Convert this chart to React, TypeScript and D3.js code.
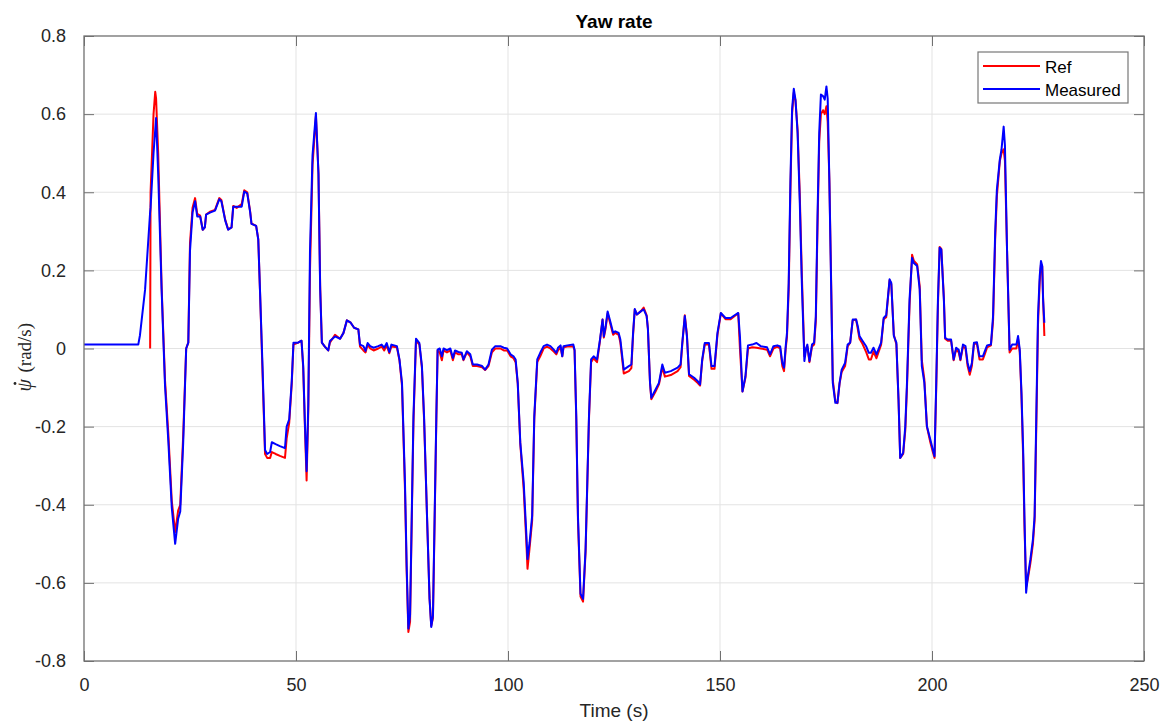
import React, { useEffect, useRef } from 'react'
import * as d3 from 'd3'

// time stamps (s), shared by both traces
const time = [
  0, 12.8, 13.2, 14.4, 15.0, 15.6, 15.7, 16.4, 16.8, 17.0,
  17.5, 18.3, 19.1, 19.9, 20.7, 21.5, 22.2, 22.7, 23.4, 24.1,
  24.6, 25.0, 25.6, 26.2, 26.7, 27.4, 28.0, 28.5, 28.8, 29.7,
  30.9, 31.9, 32.4, 33.3, 34.0, 34.8, 35.2, 36.0, 37.2, 37.8,
  38.5, 39.2, 39.5, 40.6, 41.1, 41.5, 42.1, 42.7, 43.2, 43.9,
  44.3, 45.2, 46.2, 47.4, 47.8, 48.4, 49.0, 49.4, 50.5, 51.3,
  51.7, 52.1, 52.5, 52.9, 53.3, 53.9, 54.7, 55.3, 55.7, 56.1,
  56.8, 57.6, 58.0, 59.2, 60.4, 61.2, 62.0, 62.9, 63.7, 64.7,
  65.1, 65.9, 66.4, 66.9, 67.5, 68.3, 69.4, 70.2, 70.8, 71.4,
  72.0, 72.5, 73.8, 74.4, 75.0, 75.7, 76.1, 76.5, 76.9, 77.3,
  77.7, 78.3, 79.1, 79.7, 80.2, 80.9, 81.5, 81.9, 82.3, 82.7,
  83.1, 83.4, 83.9, 84.4, 84.8, 85.6, 86.4, 87.0, 87.5, 88.3,
  89.1, 89.5, 90.3, 91.1, 91.7, 92.7, 93.9, 94.6, 95.4, 96.2,
  97.0, 98.2, 99.0, 99.8, 100.6, 101.3, 101.8, 102.3, 102.9, 103.7,
  104.3, 104.6, 105.1, 105.7, 106.2, 106.9, 107.6, 108.4, 109.2, 110.0,
  110.8, 111.4, 111.8, 112.4, 112.8, 113.1, 114.0, 115.4, 115.7, 116.1,
  116.5, 117.1, 117.7, 118.3, 118.7, 119.1, 119.6, 120.2, 121.0, 121.7,
  122.3, 122.6, 123.0, 123.5, 124.2, 124.8, 125.3, 126.1, 126.5, 127.3,
  128.5, 129.1, 129.5, 129.9, 130.4, 131.3, 132.0, 132.7, 133.0, 133.5,
  133.8, 134.8, 135.6, 136.4, 137.0, 138.4, 140.0, 140.7, 141.1, 141.7,
  142.2, 142.7, 143.9, 144.7, 145.3, 145.8, 146.4, 147.4, 148.0, 148.7,
  149.4, 150.2, 151.3, 152.5, 153.7, 154.3, 154.7, 155.3, 156.0, 156.6,
  157.6, 158.6, 159.6, 161.1, 161.8, 162.6, 163.5, 164.2, 164.7, 165.1,
  165.5, 165.8, 166.2, 166.6, 167.0, 167.4, 167.8, 168.3, 168.8, 169.3,
  169.9, 170.3, 170.6, 171.1, 171.7, 172.2, 172.6, 173.0, 173.4, 173.8,
  174.3, 174.7, 175.1, 175.4, 175.8, 176.2, 176.6, 177.2, 177.7, 178.2,
  178.7, 179.5, 180.1, 180.7, 181.3, 182.1, 182.5, 182.9, 183.6, 184.5,
  185.1, 185.6, 186.2, 186.9, 188.0, 188.6, 189.2, 190.0, 190.4, 191.0,
  191.6, 192.1, 192.5, 193.2, 193.7, 194.1, 194.7, 195.3, 195.7, 196.5,
  197.1, 197.6, 198.2, 198.8, 199.6, 200.2, 200.6, 201.0, 201.4, 201.8,
  202.2, 202.8, 203.1, 203.7, 204.5, 205.1, 205.7, 206.3, 206.7, 207.3,
  207.9, 208.4, 208.9, 209.4, 209.9, 210.6, 211.2, 212.0, 212.6, 213.0,
  213.9, 214.4, 214.9, 215.3, 216.0, 216.4, 216.9, 217.2, 217.7, 218.3,
  218.9, 219.9, 220.3, 220.7, 221.1, 221.5, 221.8, 222.2, 222.6, 223.2,
  223.8, 224.2, 224.6, 225.0, 225.4, 225.7, 226.0, 226.2, 226.5,
]

// measured yaw rate (rad/s), blue
const measured = [
  0.01, 0.01, 0.034, 0.15, 0.25, 0.35, 0.36, 0.50, 0.56, 0.59,
  0.446, 0.152, -0.093, -0.24, -0.407, -0.50, -0.436, -0.417, -0.24, 0.0,
  0.015, 0.25, 0.348, 0.377, 0.338, 0.338, 0.304, 0.31, 0.343, 0.348,
  0.353, 0.382, 0.377, 0.328, 0.304, 0.31, 0.363, 0.363, 0.363, 0.402,
  0.397, 0.348, 0.319, 0.314, 0.279, 0.152, -0.044, -0.26, -0.27, -0.265,
  -0.24, -0.245, -0.25, -0.255, -0.20, -0.181, -0.083, 0.015, 0.015, 0.02,
  -0.044, -0.19, -0.314, -0.142, 0.25, 0.495, 0.603, 0.446, 0.152, 0.015,
  0.005, -0.005, 0.019, 0.031, 0.025, 0.04, 0.072, 0.066, 0.053, 0.049,
  0.01, 0.006, -0.006, 0.014, 0.006, 0.002, 0.006, 0.01, 0.002, 0.014,
  -0.009, 0.01, 0.006, -0.028, -0.088, -0.343, -0.556, -0.717, -0.683, -0.428,
  -0.173, 0.025, 0.014, -0.045, -0.173, -0.428, -0.641, -0.713, -0.683, -0.428,
  -0.173, -0.003, 0.0, -0.02, 0.0, -0.004, 0.0, -0.024, -0.005, -0.009,
  -0.011, -0.028, -0.007, -0.015, -0.041, -0.041, -0.045, -0.054, -0.041, -0.003,
  0.006, 0.006, 0.002, 0.0, -0.015, -0.02, -0.028, -0.088, -0.241, -0.343,
  -0.47, -0.539, -0.496, -0.428, -0.173, -0.028, -0.011, 0.006, 0.01, 0.006,
  -0.003, -0.011, 0.002, 0.008, -0.02, 0.006, 0.008, 0.01, -0.003, -0.173,
  -0.428, -0.628, -0.641, -0.513, -0.343, -0.173, -0.028, -0.02, -0.028, 0.023,
  0.074, 0.031, 0.055, 0.095, 0.066, 0.04, 0.044, 0.04, 0.023, -0.054,
  -0.045, -0.041, 0.04, 0.101, 0.087, 0.095, 0.1, 0.083, 0.05, -0.088,
  -0.126, -0.105, -0.088, -0.041, -0.062, -0.058, -0.049, -0.041, 0.014, 0.083,
  0.031, -0.066, -0.075, -0.083, -0.092, -0.028, 0.014, 0.014, -0.045, -0.045,
  0.04, 0.091, 0.078, 0.078, 0.087, 0.091, 0.031, -0.11, -0.071, 0.008,
  0.01, 0.014, 0.006, 0.003, -0.015, 0.006, 0.008, 0.005, -0.037, -0.049,
  0.006, 0.04, 0.168, 0.424, 0.612, 0.665, 0.637, 0.552, 0.381, 0.168,
  -0.032, 0.0, 0.01, -0.032, 0.01, 0.015, 0.083, 0.339, 0.552, 0.65,
  0.646, 0.637, 0.671, 0.64, 0.424, 0.168, -0.088, -0.139, -0.139, -0.088,
  -0.054, -0.037, 0.01, 0.015, 0.074, 0.074, 0.057, 0.032, 0.02, 0.005,
  -0.011, -0.011, 0.002, -0.015, 0.015, 0.078, 0.085, 0.177, 0.168, 0.032,
  0.015, -0.13, -0.28, -0.267, -0.199, -0.088, 0.125, 0.232, 0.219, 0.211,
  0.151, -0.045, -0.088, -0.199, -0.233, -0.259, -0.276, -0.088, 0.125, 0.258,
  0.253, 0.125, 0.027, 0.023, 0.023, -0.028, 0.002, -0.003, -0.028, 0.01,
  0.006, -0.037, -0.058, -0.037, 0.015, 0.016, -0.02, -0.02, -0.003, 0.008,
  0.01, 0.083, 0.296, 0.407, 0.484, 0.51, 0.568, 0.52, 0.253, -0.003,
  0.01, 0.01, 0.032, -0.003, -0.113, -0.259, -0.429, -0.625, -0.583, -0.54,
  -0.489, -0.429, -0.173, 0.083, 0.185, 0.224, 0.211, 0.125, 0.066,
]

// reference yaw rate (rad/s), red; null before the reference starts
const reference = [
  null, null, null, null, null, 0, 0.40, 0.60, 0.657, 0.64,
  0.50, 0.16, -0.08, -0.22, -0.39, -0.47, -0.415, -0.40, -0.22, 0.0,
  0.015, 0.27, 0.36, 0.385, 0.345, 0.34, 0.304, 0.31, 0.343, 0.35,
  0.355, 0.385, 0.38, 0.33, 0.305, 0.31, 0.365, 0.36, 0.37, 0.405,
  0.40, 0.35, 0.32, 0.314, 0.28, 0.15, -0.06, -0.27, -0.28, -0.28,
  -0.265, -0.27, -0.275, -0.28, -0.23, -0.19, -0.09, 0.01, 0.015, 0.02,
  -0.05, -0.2, -0.338, -0.16, 0.2, 0.47, 0.595, 0.45, 0.16, 0.015,
  0.005, -0.005, 0.015, 0.035, 0.025, 0.04, 0.072, 0.066, 0.053, 0.049,
  0.005, -0.005, -0.01, 0.01, 0.0, -0.005, 0.0, 0.005, -0.005, 0.008,
  -0.012, 0.005, 0.003, -0.03, -0.095, -0.36, -0.57, -0.726, -0.70, -0.44,
  -0.19, 0.02, 0.01, -0.05, -0.18, -0.43, -0.64, -0.71, -0.69, -0.44,
  -0.18, -0.005, -0.01, -0.03, -0.005, -0.01, -0.005, -0.03, -0.01, -0.015,
  -0.015, -0.03, -0.01, -0.02, -0.045, -0.045, -0.048, -0.055, -0.045, -0.01,
  0.0, 0.0, -0.005, -0.005, -0.02, -0.025, -0.035, -0.09, -0.245, -0.36,
  -0.49, -0.564, -0.51, -0.44, -0.18, -0.035, -0.02, 0.0, 0.005, 0.0,
  -0.008, -0.015, -0.005, 0.003, -0.02, 0.003, 0.005, 0.005, -0.005, -0.18,
  -0.44, -0.635, -0.648, -0.52, -0.35, -0.18, -0.035, -0.025, -0.035, 0.02,
  0.074, 0.028, 0.05, 0.09, 0.06, 0.035, 0.04, 0.035, 0.015, -0.064,
  -0.058, -0.05, 0.035, 0.1, 0.087, 0.095, 0.105, 0.085, 0.05, -0.09,
  -0.13, -0.11, -0.092, -0.048, -0.072, -0.068, -0.058, -0.048, 0.01, 0.085,
  0.035, -0.07, -0.08, -0.088, -0.095, -0.032, 0.01, 0.01, -0.052, -0.052,
  0.035, 0.09, 0.075, 0.075, 0.085, 0.09, 0.0, -0.11, -0.075, 0.0,
  0.003, 0.002, 0.0, -0.003, -0.02, 0.0, 0.005, 0.0, -0.045, -0.058,
  0.0, 0.03, 0.15, 0.40, 0.60, 0.655, 0.635, 0.56, 0.40, 0.19,
  -0.02, 0.0, 0.005, -0.035, 0.005, 0.01, 0.07, 0.31, 0.53, 0.60,
  0.61, 0.60, 0.62, 0.58, 0.43, 0.18, -0.08, -0.135, -0.14, -0.09,
  -0.06, -0.045, 0.005, 0.015, 0.072, 0.074, 0.05, 0.025, 0.012, -0.01,
  -0.028, -0.028, -0.008, -0.025, 0.01, 0.075, 0.08, 0.175, 0.165, 0.035,
  0.01, -0.13, -0.28, -0.27, -0.21, -0.1, 0.11, 0.24, 0.225, 0.215,
  0.16, -0.03, -0.08, -0.2, -0.24, -0.265, -0.28, -0.1, 0.11, 0.26,
  0.255, 0.13, 0.025, 0.02, 0.02, -0.03, -0.002, -0.01, -0.03, 0.005,
  0.0, -0.045, -0.067, -0.045, 0.012, 0.012, -0.028, -0.028, -0.01, 0.003,
  0.008, 0.07, 0.28, 0.39, 0.48, 0.50, 0.51, 0.48, 0.25, -0.01,
  0.0, 0.0, 0.025, -0.01, -0.12, -0.28, -0.45, -0.61, -0.59, -0.55,
  -0.5, -0.44, -0.2, 0.06, 0.17, 0.215, 0.21, 0.13, 0.032,
]

const xTicks = [0, 50, 100, 150, 200, 250]
const yTicks = [-0.8, -0.6, -0.4, -0.2, 0, 0.2, 0.4, 0.6, 0.8]
const seriesNames = ['Ref', 'Measured']
const seriesColors = ['#ff0000', '#0000ff']

export default function App() {
  const ref = useRef<SVGSVGElement>(null)

  useEffect(() => {
    const width = 1169, height = 722
    const margin = { top: 36, right: 25, bottom: 61, left: 84 }
    const w = width - margin.left - margin.right
    const h = height - margin.top - margin.bottom

    const svg = d3.select(ref.current)
    svg.selectAll('*').remove()
    svg.append('rect').attr('width', width).attr('height', height).attr('fill', '#fff')

    const g = svg.append('g').attr('transform', `translate(${margin.left},${margin.top})`)

    const x = d3.scaleLinear().domain([0, 250]).range([0, w])
    const y = d3.scaleLinear().domain([-0.8, 0.8]).range([h, 0])

    const font = '"Liberation Sans", Arial, Helvetica, sans-serif'
    const serif = '"Liberation Serif", "DejaVu Serif", serif'
    const axisColor = '#707070'
    const textColor = '#262626'

    // grid
    g.append('g').selectAll('line').data(xTicks.slice(1, -1)).enter().append('line')
      .attr('x1', d => x(d)).attr('x2', d => x(d)).attr('y1', 0).attr('y2', h)
      .attr('stroke', '#e3e3e3').attr('stroke-width', 1)
    g.append('g').selectAll('line').data(yTicks.slice(1, -1)).enter().append('line')
      .attr('x1', 0).attr('x2', w).attr('y1', d => y(d)).attr('y2', d => y(d))
      .attr('stroke', '#e3e3e3').attr('stroke-width', 1)

    // data lines
    const rows = time.map((t, i) => ({ t, m: measured[i], r: reference[i] }))
    const lineRef = d3.line<any>().defined(d => d.r !== null).x(d => x(d.t)).y(d => y(d.r))
    const lineMeas = d3.line<any>().x(d => x(d.t)).y(d => y(d.m))
    g.append('path').datum(rows).attr('d', lineRef).attr('fill', 'none')
      .attr('stroke', seriesColors[0]).attr('stroke-width', 2).attr('stroke-linejoin', 'round')
    g.append('path').datum(rows).attr('d', lineMeas).attr('fill', 'none')
      .attr('stroke', seriesColors[1]).attr('stroke-width', 2).attr('stroke-linejoin', 'round')

    // axes, ticks inside on all four sides (box on)
    const styleAxis = (sel: any) => {
      sel.select('.domain').remove()
      sel.selectAll('.tick line').attr('stroke', axisColor)
      sel.selectAll('.tick text').attr('fill', textColor).attr('font-family', font).attr('font-size', 18)
    }
    g.append('g').attr('transform', `translate(0,${h})`)
      .call(d3.axisBottom(x).tickValues(xTicks).tickSizeInner(-10).tickPadding(17).tickFormat(d => String(d)))
      .call(styleAxis)
    g.append('g')
      .call(d3.axisTop(x).tickValues(xTicks).tickSizeInner(-10).tickFormat(() => ''))
      .call(styleAxis)
    g.append('g')
      .call(d3.axisLeft(y).tickValues(yTicks).tickSizeInner(-10).tickPadding(18).tickFormat(d => String(+d)))
      .call(styleAxis)
    g.append('g').attr('transform', `translate(${w},0)`)
      .call(d3.axisRight(y).tickValues(yTicks).tickSizeInner(-10).tickFormat(() => ''))
      .call(styleAxis)

    g.append('rect').attr('width', w).attr('height', h).attr('fill', 'none')
      .attr('stroke', axisColor).attr('stroke-width', 1.3)

    // title and labels
    svg.append('text').attr('x', margin.left + w / 2).attr('y', 28).attr('text-anchor', 'middle')
      .attr('font-family', font).attr('font-size', 19).attr('font-weight', 'bold').attr('fill', '#000')
      .text('Yaw rate')
    svg.append('text').attr('x', margin.left + w / 2).attr('y', 717).attr('text-anchor', 'middle')
      .attr('font-family', font).attr('font-size', 19).attr('fill', textColor)
      .text('Time (s)')

    // y label: psi-dot (rad/s), drawn in a rotated frame
    const yl = svg.append('g').attr('transform', `translate(31,${margin.top + h / 2}) rotate(-90)`)
    yl.append('text').attr('x', -43).attr('y', 0).attr('font-family', serif)
      .attr('font-style', 'italic').attr('font-size', 20).attr('fill', textColor).text('ψ')
    yl.append('circle').attr('cx', -35).attr('cy', -16).attr('r', 1.4).attr('fill', textColor)
    yl.append('text').attr('x', -24).attr('y', 0).attr('font-family', serif)
      .attr('font-size', 19).attr('fill', textColor).text('(rad/s)')

    // legend
    const lg = svg.append('g').attr('transform', 'translate(978,52)')
    lg.append('rect').attr('width', 150).attr('height', 51).attr('fill', '#fff')
      .attr('stroke', '#777').attr('stroke-width', 1.2)
    seriesNames.forEach((name, i) => {
      const yy = 14 + i * 23
      lg.append('line').attr('x1', 5).attr('x2', 62).attr('y1', yy).attr('y2', yy)
        .attr('stroke', seriesColors[i]).attr('stroke-width', 2)
      lg.append('text').attr('x', 67).attr('y', yy + 7).attr('font-family', font)
        .attr('font-size', 17).attr('fill', '#000').text(name)
    })
  }, [])

  return (
    <svg ref={ref} width={1169} height={722}
      style={{ position: 'absolute', left: 0, top: 0, display: 'block' }} />
  )
}
